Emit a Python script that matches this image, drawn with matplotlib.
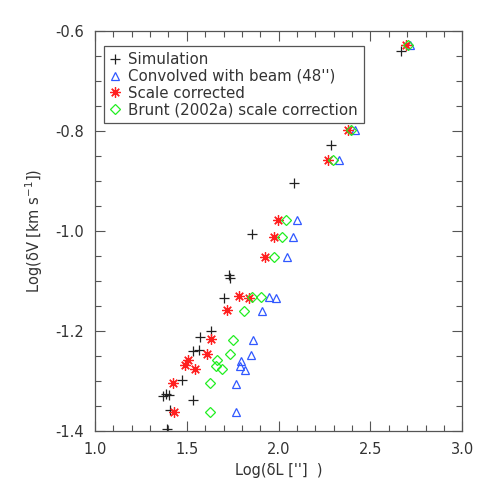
import matplotlib
matplotlib.use("Agg")
import matplotlib.pyplot as plt
from matplotlib.ticker import MultipleLocator, FormatStrFormatter

# Log(dL) and Log(dV)
sim_x = [2.666, 2.285, 2.083, 1.855, 1.729, 1.733, 1.702, 1.631, 1.572,
         1.535, 1.566, 1.476, 1.369, 1.385, 1.404, 1.535, 1.406, 1.392]
sim_y = [-0.640, -0.828, -0.904, -1.006, -1.088, -1.094, -1.134, -1.200, -1.211,
         -1.240, -1.238, -1.298, -1.330, -1.326, -1.328, -1.337, -1.357, -1.396]

conv_x = [2.715, 2.415, 2.328, 2.100, 2.079, 2.044, 1.947, 1.986, 1.911,
          1.863, 1.848, 1.797, 1.789, 1.817, 1.769, 1.770]
conv_y = [-0.628, -0.798, -0.858, -0.978, -1.013, -1.052, -1.131, -1.133, -1.159,
          -1.218, -1.247, -1.259, -1.270, -1.277, -1.305, -1.361]

scale_x = [2.693, 2.375, 2.268, 1.999, 1.972, 1.924, 1.784, 1.838, 1.720,
           1.633, 1.608, 1.507, 1.490, 1.547, 1.426, 1.430]
scale_y = [-0.628, -0.798, -0.858, -0.977, -1.012, -1.051, -1.130, -1.133, -1.158,
           -1.216, -1.246, -1.257, -1.267, -1.275, -1.303, -1.361]

brunt_x = [2.704, 2.394, 2.294, 2.040, 2.018, 1.973, 1.857, 1.904, 1.812,
           1.752, 1.735, 1.667, 1.659, 1.689, 1.626, 1.628]
brunt_y = [-0.628, -0.798, -0.858, -0.978, -1.012, -1.051, -1.131, -1.132, -1.159,
           -1.217, -1.246, -1.257, -1.269, -1.275, -1.303, -1.361]

axis_col = "#555555"
text_col = "#333333"

plt.rcParams["font.family"] = ["DejaVu Sans"]
plt.rcParams["font.size"] = 10.5

fig = plt.figure(figsize=(4.91, 4.91), dpi=100)
ax = fig.add_axes([95 / 491, 60 / 491, 367.3 / 491, 400 / 491])

ax.plot(sim_x, sim_y, linestyle="none", marker="+", ms=7, mew=0.9,
        color="#222222", label="Simulation")
ax.plot(conv_x, conv_y, linestyle="none", marker="^", ms=6, mew=0.9,
        mfc="none", mec="#3058ff", label="Convolved with beam (48'')")
ax.plot(scale_x, scale_y, linestyle="none", marker=(8, 2, 0), ms=7.5, mew=0.9,
        color="#ff2020", label="Scale corrected")
ax.plot(brunt_x, brunt_y, linestyle="none", marker="D", ms=5, mew=0.9,
        mfc="none", mec="#22ee22", label="Brunt (2002a) scale correction")

ax.set_xlim(1.0, 3.0)
ax.set_ylim(-1.4, -0.6)
ax.xaxis.set_major_locator(MultipleLocator(0.5))
ax.xaxis.set_minor_locator(MultipleLocator(0.1))
ax.yaxis.set_major_locator(MultipleLocator(0.2))
ax.yaxis.set_minor_locator(MultipleLocator(0.05))
ax.xaxis.set_major_formatter(FormatStrFormatter("%.1f"))
ax.yaxis.set_major_formatter(FormatStrFormatter("%.1f"))

ax.tick_params(which="both", direction="in", top=True, right=True,
               color=axis_col, labelcolor=text_col, width=0.8)
ax.tick_params(which="major", length=7, pad=8)
ax.tick_params(which="minor", length=4)
for sp in ax.spines.values():
    sp.set_color(axis_col)
    sp.set_linewidth(0.9)

ax.set_xlabel("Log(δL ['']  )", color=text_col, labelpad=4)
ax.set_ylabel("Log(δV [km s$^{-1}$])", color=text_col, labelpad=7)

leg = ax.legend(loc="upper left", bbox_to_anchor=(0.0245, 0.9625),
                borderaxespad=0, fancybox=False, edgecolor=axis_col,
                framealpha=1, handlelength=0.7, handletextpad=0.5,
                borderpad=0.4, labelspacing=0.12, fontsize=10.8)
leg.get_frame().set_linewidth(0.9)
for t in leg.get_texts():
    t.set_color(text_col)

fig.savefig("out.png", dpi=100)
